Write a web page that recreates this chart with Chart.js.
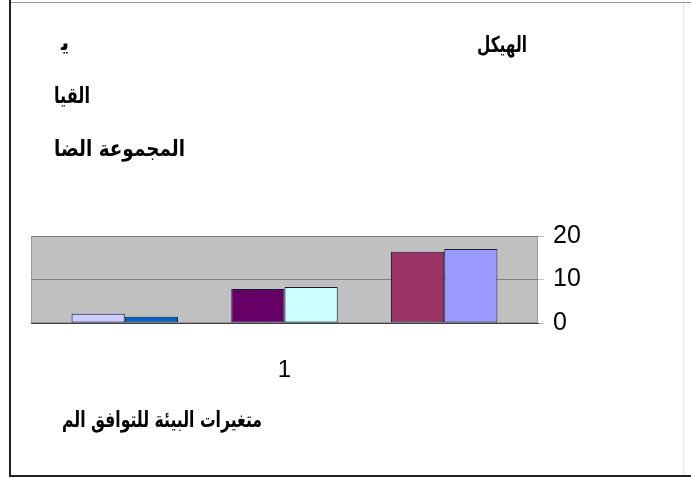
<!DOCTYPE html>
<html>
<head>
<meta charset="utf-8">
<script src="https://cdn.jsdelivr.net/npm/chart.js@4/dist/chart.umd.min.js"></script>
<style>
  html, body { margin: 0; padding: 0; background: #ffffff; }
  #wrap { width: 691px; height: 479px; position: relative; }
</style>
</head>
<body>
<div id="wrap"><canvas id="c" width="691" height="479"></canvas></div>
<script>
// Category (single group) and the eight series, listed as series 1..8
const categories = ['1'];
const seriesNames = ['سلسلة1', 'سلسلة2', 'سلسلة3', 'سلسلة4', 'سلسلة5', 'سلسلة6', 'سلسلة7', 'سلسلة8'];
const seriesValues = [17, 16.4, 0, 8.3, 7.8, 0, 1.45, 2.1];
const seriesColors = ['#9999ff', '#993366', '#ffffcc', '#ccffff', '#660066', '#ff8080', '#0066cc', '#ccccff'];
const yTicks = [0, 10, 20];

// Captions drawn around the chart
const captionTop = 'الهيكل';
const captionLines = ['ﻳ', 'القيا', 'المجموعة الضا'];
const captionBottom = 'متغيرات البيئة للتوافق الم';

// Right-to-left layout: series 1 sits at the right end of the group
const datasets = seriesNames.map((name, i) => ({
  label: name,
  data: [seriesValues[i]],
  backgroundColor: seriesColors[i],
  borderColor: '#1a1a3a',
  borderWidth: 1,
  borderSkipped: false,
  categoryPercentage: 0.84,
  barPercentage: 1.0
})).reverse();

const arabicFont = 'bold 22px "DejaVu Sans", sans-serif';

const decor = {
  id: 'decor',
  beforeDraw(chart) {
    const { ctx, chartArea: a } = chart;
    ctx.save();
    ctx.fillStyle = '#ffffff';
    ctx.fillRect(0, 0, chart.width, chart.height);
    // plot area fill
    ctx.fillStyle = '#c0c0c0';
    ctx.fillRect(a.left, a.top, a.right - a.left, a.bottom - a.top);
    ctx.strokeStyle = '#9a9a9a';
    ctx.lineWidth = 1;
    ctx.strokeRect(a.left + 0.5, a.top + 0.5, a.right - a.left - 1, a.bottom - a.top - 1);
    ctx.restore();
  },
  afterDraw(chart) {
    const { ctx } = chart;
    ctx.save();
    // outer frame
    ctx.strokeStyle = '#9a9a9a';
    ctx.lineWidth = 1;
    ctx.beginPath();
    ctx.moveTo(10, 2.5); ctx.lineTo(691, 2.5);
    ctx.stroke();
    ctx.strokeStyle = '#e4e4e4';
    ctx.beginPath();
    ctx.moveTo(683.5, 3); ctx.lineTo(683.5, 475);
    ctx.stroke();
    ctx.strokeStyle = '#222222';
    ctx.lineWidth = 2;
    ctx.beginPath();
    ctx.moveTo(10, 0); ctx.lineTo(10, 476);
    ctx.lineTo(691, 476);
    ctx.stroke();

    // captions
    ctx.fillStyle = '#000000';
    ctx.font = arabicFont;
    ctx.textBaseline = 'middle';
    ctx.direction = 'rtl';
    ctx.textAlign = 'right';
    ctx.fillText(captionTop, 527, 46, 50);
    ctx.textAlign = 'left';
    ctx.fillText(captionLines[0], 61, 44);
    ctx.fillText(captionLines[1], 54, 97, 36);
    ctx.fillText(captionLines[2], 54, 150, 131);
    ctx.fillText(captionBottom, 62, 421, 200);
    ctx.restore();
  }
};

new Chart(document.getElementById('c'), {
  type: 'bar',
  data: { labels: categories, datasets },
  options: {
    responsive: false,
    animation: false,
    devicePixelRatio: 1,
    layout: { padding: { top: 236, left: 31, right: 93, bottom: 86 } },
    plugins: { legend: { display: false }, tooltip: { enabled: false } },
    scales: {
      x: {
        grid: { display: false, drawTicks: false },
        border: { display: true, color: '#404040', width: 1 },
        ticks: { color: '#000000', padding: 33, font: { family: '"Liberation Sans", Arial, sans-serif', size: 24 } },
        afterFit(s) { s.height = 70; }
      },
      y: {
        position: 'right',
        min: yTicks[0],
        max: yTicks[yTicks.length - 1],
        afterBuildTicks(s) { s.ticks = yTicks.map(v => ({ value: v })); },
        grid: { color: '#808080', lineWidth: 1, drawTicks: true, tickLength: 6, tickColor: '#c0c0c0' },
        border: { display: false },
        ticks: { color: '#000000', padding: 9, font: { family: '"Liberation Sans", Arial, sans-serif', size: 25 } },
        afterFit(s) { s.width = 60; }
      }
    }
  },
  plugins: [decor]
});
</script>
</body>
</html>
